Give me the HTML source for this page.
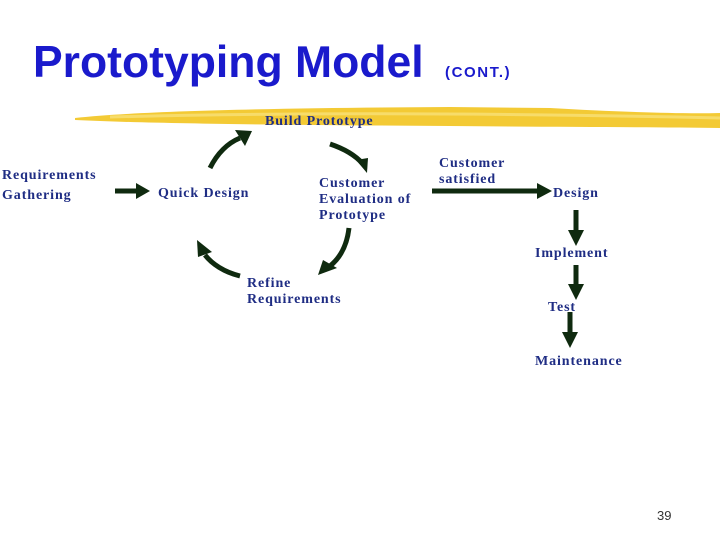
<!DOCTYPE html>
<html><head><meta charset="utf-8"><style>
body{margin:0;background:#fff}
svg{display:block}
text{font-family:"Liberation Serif",serif;font-size:14px;font-weight:bold;letter-spacing:0.9px;fill:#1f2d84}
</style></head><body>
<svg width="720" height="540" viewBox="0 0 720 540">
<text x="33" y="77" style="font-family:'Liberation Sans',sans-serif;font-weight:bold;font-size:44.5px;letter-spacing:0;fill:#1a1acc">Prototyping Model</text>
<text x="445" y="77" style="font-family:'Liberation Sans',sans-serif;font-weight:bold;font-size:15px;letter-spacing:1.6px;fill:#1a1acc">(CONT.)</text>
<path d="M75,118 C150,110 300,108 450,107 L550,108 C620,112 680,114 720,113 L720,128 C650,127 560,127 450,126 C300,125 160,124 75,120 Z" fill="#f2c72a" opacity="0.95"/>
<path d="M110,117 C300,112 500,113 720,118" stroke="#f7dc6a" stroke-width="3" fill="none"/>
<text x="265" y="125">Build Prototype</text>
<text x="2" y="179">Requirements</text>
<text x="2" y="199">Gathering</text>
<text x="158" y="197">Quick Design</text>
<text x="319" y="187">Customer</text>
<text x="319" y="203">Evaluation of</text>
<text x="319" y="219">Prototype</text>
<text x="247" y="287">Refine</text>
<text x="247" y="303">Requirements</text>
<text x="439" y="167">Customer</text>
<text x="439" y="183">satisfied</text>
<text x="553" y="197">Design</text>
<text x="535" y="257">Implement</text>
<text x="548" y="311">Test</text>
<text x="535" y="365">Maintenance</text>
<text x="657" y="520" style="font-family:'Liberation Sans',sans-serif;font-size:13px;font-weight:normal;letter-spacing:0;fill:#333">39</text>
<g stroke="#0f2a0f" stroke-width="5" fill="none">
<line x1="115" y1="191" x2="138" y2="191"/>
<path d="M210,168 C218,152 228,143 240,138"/>
<path d="M330,144 C345,149 356,156 363,164"/>
<path d="M349,228 C347,245 340,258 330,266"/>
<path d="M240,276 C224,272 212,264 205,255"/>
<line x1="432" y1="191" x2="540" y2="191"/>
<line x1="576" y1="210" x2="576" y2="232"/>
<line x1="576" y1="265" x2="576" y2="286"/>
<line x1="570" y1="312" x2="570" y2="334"/>
</g>
<g fill="#0f2a0f">
<polygon points="136,183 150,191 136,199"/>
<polygon points="235,130 252,131 245,146"/>
<polygon points="356,160 368,158 367,173"/>
<polygon points="323,260 337,268 318,275"/>
<polygon points="197,240 212,252 198,257"/>
<polygon points="537,183 552,191 537,199"/>
<polygon points="568,230 584,230 576,246"/>
<polygon points="568,284 584,284 576,300"/>
<polygon points="562,332 578,332 570,348"/>
</g>
</svg>
</body></html>
